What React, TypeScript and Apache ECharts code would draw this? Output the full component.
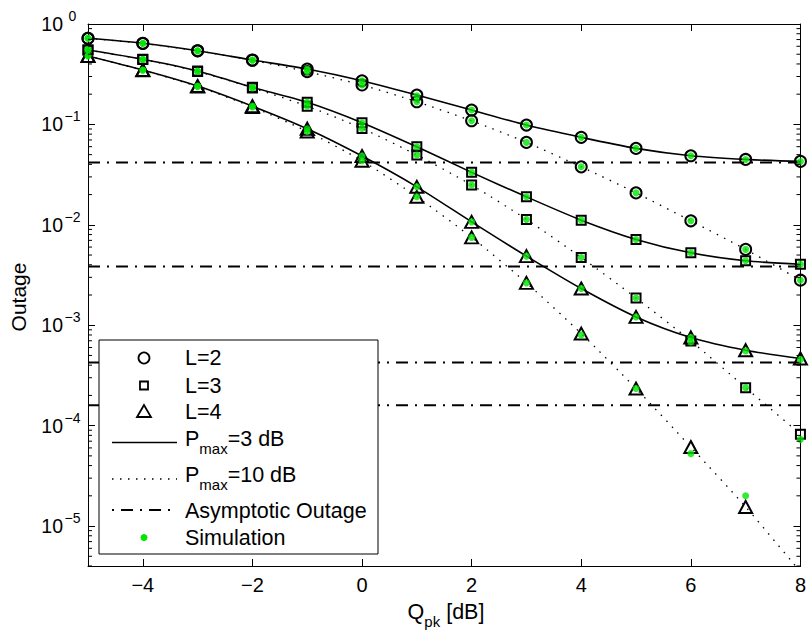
import React, { useEffect, useRef } from 'react';
import * as echarts from 'echarts';

// ---------- data ----------
const Q = [-5, -4, -3, -2, -1, 0, 1, 2, 3, 4, 5, 6, 7, 8];

// analytic outage, Pmax = 3 dB (solid)
const L2_P3 = [0.72, 0.642, 0.542, 0.438, 0.356, 0.272, 0.196, 0.139, 0.0985, 0.0743, 0.0577, 0.0487, 0.0448, 0.0428];
const L3_P3 = [0.55, 0.445, 0.34, 0.234, 0.166, 0.104, 0.0598, 0.0333, 0.019, 0.01113, 0.00715, 0.00526, 0.00438, 0.00405];
const L4_P3 = [0.48, 0.348, 0.241, 0.152, 0.0905, 0.0484, 0.0239, 0.0107, 0.00488, 0.00232, 0.00121, 0.000755, 0.000564, 0.000466];

// analytic outage, Pmax = 10 dB (dotted)
const L2_P10 = [0.72, 0.64, 0.54, 0.435, 0.335, 0.247, 0.168, 0.1087, 0.0662, 0.0378, 0.0208, 0.01096, 0.00569, 0.00281];
const L3_P10 = [0.55, 0.443, 0.337, 0.231, 0.152, 0.0913, 0.0495, 0.0249, 0.01132, 0.00473, 0.00187, 0.000698, 0.000239, 0.000082];
const L4_P10 = [0.48, 0.346, 0.238, 0.149, 0.085, 0.0434, 0.019, 0.0075, 0.00264, 0.000826, 0.000234, 0.0000612, 0.0000155, 0.0000035];

// simulation points
const SIM_L2_P3 = [0.72, 0.642, 0.542, 0.438, 0.356, 0.272, 0.193, 0.139, 0.0985, 0.0743, 0.0577, 0.0487, 0.0448, 0.0428];
const SIM_L3_P3 = [0.56, 0.445, 0.34, 0.234, 0.166, 0.104, 0.0598, 0.0333, 0.019, 0.01113, 0.00715, 0.00526, 0.00438, 0.00405];
const SIM_L4_P3 = [0.485, 0.348, 0.241, 0.152, 0.0905, 0.0484, 0.0239, 0.0107, 0.00488, 0.00232, 0.00121, 0.000755, 0.000555, 0.000455];
const SIM_L2_P10 = [0.72, 0.64, 0.54, 0.435, 0.335, 0.247, 0.168, 0.1087, 0.0662, 0.0378, 0.0208, 0.01096, 0.00569, 0.00281];
const SIM_L3_P10 = [0.55, 0.443, 0.337, 0.231, 0.152, 0.0913, 0.0495, 0.0249, 0.01132, 0.00473, 0.00187, 0.00068, 0.000239, 0.000073];
const SIM_L4_P10 = [0.48, 0.346, 0.238, 0.149, 0.085, 0.0434, 0.019, 0.0075, 0.00264, 0.0008, 0.000234, 0.0000526, 0.00002, null];

// asymptotic outage levels
const ASYMPTOTES = [0.0418, 0.00385, 0.000425, 0.00016];

// axes
const X_MIN = -5;
const X_MAX = 8;
const X_TICKS = [-4, -2, 0, 2, 4, 6, 8];
const Y_MIN = 4e-6;
const Y_MAX = 1;
const MINOR_MULT = [2, 3, 4, 5, 6, 7, 8, 9];
const DECADES = [-6, -5, -4, -3, -2, -1];

const FONT = "'Liberation Sans', Arial, Helvetica, sans-serif";
const GREEN = '#00e600';
const DASH_DOT = [12, 7, 2, 7];
const DOTTED = [1.5, 6.5];
const LEG_FS = 21.5;

const toPairs = (vals: (number | null)[]) => Q.map((q, i) => [q, vals[i]]);

export default function App() {
  const ref = useRef<HTMLDivElement>(null);

  useEffect(() => {
    if (!ref.current) return;
    const chart = echarts.init(ref.current, undefined, { renderer: 'svg' });

    const curves = [
      { vals: L2_P3, sym: 'circle', size: 11, solid: true },
      { vals: L3_P3, sym: 'rect', size: 9, solid: true },
      { vals: L4_P3, sym: 'triangle', size: [13, 12], solid: true },
      { vals: L2_P10, sym: 'circle', size: 11, solid: false },
      { vals: L3_P10, sym: 'rect', size: 9, solid: false },
      { vals: L4_P10, sym: 'triangle', size: [13, 12], solid: false },
    ];

    const minorValues: number[][] = [];
    DECADES.forEach((e) =>
      MINOR_MULT.forEach((m) => {
        const v = m * Math.pow(10, e);
        if (v >= Y_MIN && v <= Y_MAX) minorValues.push([X_MIN, v]);
      })
    );

    const series: any[] = [];

    ASYMPTOTES.forEach((v) => {
      series.push({
        type: 'line',
        data: [[X_MIN, v], [X_MAX, v]],
        symbol: 'none',
        lineStyle: { color: '#000', width: 2, type: DASH_DOT },
        z: 2,
        silent: true,
      });
    });

    curves.forEach((c) => {
      series.push({
        type: 'line',
        data: toPairs(c.vals),
        symbol: c.sym,
        symbolSize: c.size,
        showSymbol: true,
        smooth: 0.25,
        clip: true,
        lineStyle: { color: '#000', width: c.solid ? 1.6 : 1.3, type: c.solid ? 'solid' : DOTTED },
        itemStyle: { color: 'rgba(0,0,0,0)', borderColor: '#000', borderWidth: 2 },
        z: 3,
        silent: true,
      });
    });

    const simData: any[] = [];
    [SIM_L2_P3, SIM_L3_P3, SIM_L4_P3, SIM_L2_P10, SIM_L3_P10, SIM_L4_P10].forEach((arr) => {
      Q.forEach((q, i) => {
        if (arr[i] != null) simData.push([q, arr[i]]);
      });
    });
    series.push({
      type: 'scatter',
      name: 'Simulation',
      data: simData,
      symbol: 'circle',
      symbolSize: 7,
      itemStyle: { color: GREEN },
      z: 5,
      silent: true,
    });

    series.push({
      type: 'custom',
      data: minorValues,
      silent: true,
      clip: false,
      z: 6,
      renderItem: (params: any, api: any) => {
        const v = api.value(1);
        const pl = api.coord([X_MIN, v]);
        const pr = api.coord([X_MAX, v]);
        return {
          type: 'group',
          children: [
            { type: 'line', shape: { x1: pl[0], y1: pl[1], x2: pl[0] + 4, y2: pl[1] }, style: { stroke: '#000', lineWidth: 1 } },
            { type: 'line', shape: { x1: pr[0], y1: pr[1], x2: pr[0] - 4, y2: pr[1] }, style: { stroke: '#000', lineWidth: 1 } },
          ],
        };
      },
    });

    const supExp = (v: number) => {
      const e = Math.round(Math.log10(v));
      return e < 0 ? '\u2212' + -e : String(e);
    };

    const txt = (text: string, x: number, y: number, extra: any = {}) => ({
      type: 'text',
      x,
      y,
      z: 101,
      style: {
        text,
        fontSize: LEG_FS,
        fontFamily: FONT,
        fill: '#000',
        align: 'left',
        verticalAlign: 'middle',
        textAlign: 'left',
        textVerticalAlign: 'middle',
        ...extra,
      },
    });

    const subRich = {
      b: { fontSize: LEG_FS, fontFamily: FONT, lineHeight: 22, verticalAlign: 'top', color: '#000' },
      s: { fontSize: 15, fontFamily: FONT, lineHeight: 15, padding: [13, 0, 0, 0], verticalAlign: 'top', color: '#000' },
    };

    const graphic: any[] = [
      // legend box
      { type: 'rect', z: 100, shape: { x: 99, y: 340, width: 279, height: 214 }, style: { fill: '#fff', stroke: '#000', lineWidth: 1 } },
      { type: 'circle', z: 101, shape: { cx: 144, cy: 358, r: 5.5 }, style: { fill: 'none', stroke: '#000', lineWidth: 1.8 } },
      { type: 'rect', z: 101, shape: { x: 140, y: 381.5, width: 8, height: 8 }, style: { fill: 'none', stroke: '#000', lineWidth: 1.8 } },
      { type: 'polygon', z: 101, shape: { points: [[144, 405], [137, 417], [151, 417]] }, style: { fill: 'none', stroke: '#000', lineWidth: 1.8 } },
      { type: 'line', z: 101, shape: { x1: 112, y1: 442.5, x2: 177, y2: 442.5 }, style: { stroke: '#000', lineWidth: 1.6 } },
      { type: 'line', z: 101, shape: { x1: 112, y1: 479, x2: 177, y2: 479 }, style: { stroke: '#000', lineWidth: 1.3, lineDash: DOTTED } },
      { type: 'line', z: 101, shape: { x1: 112, y1: 510, x2: 177, y2: 510 }, style: { stroke: '#000', lineWidth: 2, lineDash: DASH_DOT, lineDashOffset: 19 } },
      { type: 'circle', z: 101, shape: { cx: 144, cy: 537.5, r: 3.5 }, style: { fill: GREEN } },
      txt('L=2', 185, 358),
      txt('L=3', 185, 385.5),
      txt('L=4', 185, 412),
      txt('{b|P}{s|max}{b|=3 dB}', 185, 428, { verticalAlign: 'top', textVerticalAlign: 'top', rich: subRich }),
      txt('{b|P}{s|max}{b|=10 dB}', 185, 464, { verticalAlign: 'top', textVerticalAlign: 'top', rich: subRich }),
      txt('Asymptotic Outage', 185, 511),
      txt('Simulation', 185, 537.5),
      // axis names
      txt('{b|Q}{s|pk}{b| [dB]}', 446, 601, { align: 'center', textAlign: 'center', verticalAlign: 'top', textVerticalAlign: 'top', rich: subRich }),
      {
        type: 'text',
        x: 18,
        y: 297,
        rotation: Math.PI / 2,
        z: 101,
        style: {
          text: 'Outage',
          fontSize: 21,
          fontFamily: FONT,
          fill: '#000',
          align: 'center',
          verticalAlign: 'middle',
          textAlign: 'center',
          textVerticalAlign: 'middle',
        },
      },
    ];

    const xLabel = (v: number) => (v < 0 ? '\u2212' + Math.abs(v) : String(v));

    chart.setOption({
      animation: false,
      backgroundColor: '#fff',
      grid: { left: 88, right: 5, top: 24, bottom: 64, containLabel: false },
      xAxis: [
        {
          type: 'value',
          min: X_MIN,
          max: X_MAX,
          position: 'bottom',
          axisLine: { show: true, onZero: false, lineStyle: { color: '#000', width: 1 } },
          axisTick: { show: true, inside: true, length: 7, customValues: X_TICKS, lineStyle: { color: '#000' } },
          axisLabel: {
            show: true,
            customValues: X_TICKS,
            formatter: xLabel,
            margin: 9,
            color: '#000',
            fontSize: 20,
            fontFamily: FONT,
          },
          splitLine: { show: false },
        },
        {
          type: 'value',
          min: X_MIN,
          max: X_MAX,
          position: 'top',
          axisLine: { show: true, onZero: false, lineStyle: { color: '#000', width: 1 } },
          axisTick: { show: true, inside: true, length: 7, customValues: X_TICKS, lineStyle: { color: '#000' } },
          axisLabel: { show: false },
          splitLine: { show: false },
        },
      ],
      yAxis: [
        {
          type: 'log',
          logBase: 10,
          min: Y_MIN,
          max: Y_MAX,
          position: 'left',
          axisLine: { show: true, onZero: false, lineStyle: { color: '#000', width: 1 } },
          axisTick: { show: true, inside: true, length: 7, lineStyle: { color: '#000' } },
          axisLabel: {
            show: true,
            showMinLabel: false,
            margin: 6,
            formatter: (v: number) => '{b|10}{s|' + supExp(v) + '}',
            rich: {
              b: { fontSize: 19.5, fontFamily: FONT, color: '#000', lineHeight: 30, verticalAlign: 'middle' },
              s: { fontSize: 14, fontFamily: FONT, color: '#000', lineHeight: 14, verticalAlign: 'top', width: 19, align: 'left' },
            },
          },
          splitLine: { show: false },
        },
        {
          type: 'log',
          logBase: 10,
          min: Y_MIN,
          max: Y_MAX,
          position: 'right',
          axisLine: { show: true, onZero: false, lineStyle: { color: '#000', width: 1 } },
          axisTick: { show: true, inside: true, length: 7, lineStyle: { color: '#000' } },
          axisLabel: { show: false },
          splitLine: { show: false },
        },
      ],
      series,
      graphic,
    });

    return () => chart.dispose();
  }, []);

  return <div ref={ref} style={{ position: 'fixed', left: 0, top: 0, width: 809, height: 630 }} />;
}
